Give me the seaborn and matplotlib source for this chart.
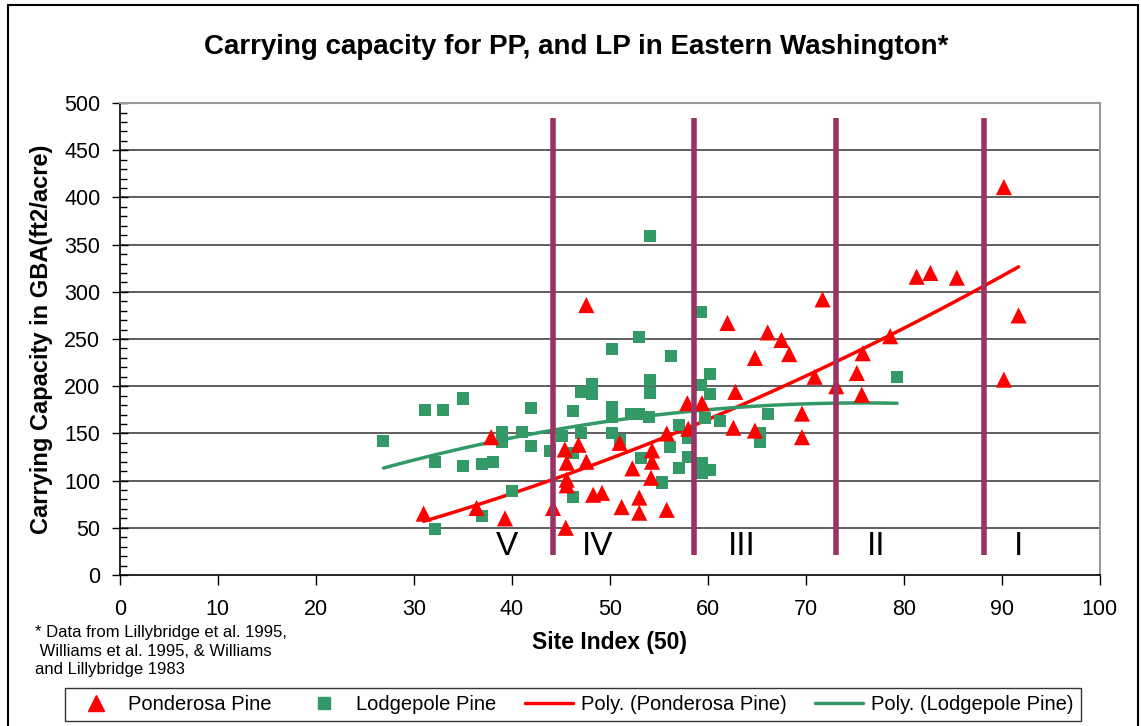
import numpy as np
import pandas as pd
import seaborn as sns
import matplotlib.pyplot as plt
from matplotlib.lines import Line2D
from matplotlib.patches import Rectangle
from matplotlib.ticker import MultipleLocator

# Ponderosa Pine (site index, carrying capacity)
pp_si = [31.0, 36.4, 37.9, 39.3, 44.2, 45.4, 45.5, 45.6, 45.6, 45.6, 46.8, 47.6, 47.6,
         48.3, 49.2, 51.0, 51.2, 52.3, 53.0, 53.0, 54.2, 54.3, 54.3, 55.8, 55.8, 57.9,
         58.0, 59.4, 62.0, 62.6, 62.8, 64.8, 64.8, 66.1, 67.5, 68.3, 69.6, 69.6, 70.9,
         71.7, 73.1, 75.2, 75.7, 75.8, 78.6, 81.3, 82.7, 85.4, 90.2, 90.2, 91.7]
pp_cc = [65, 71, 146, 60, 71, 133, 50, 119, 101, 95, 138, 120, 286,
         85, 87, 140, 72, 113, 82, 66, 103, 132, 120, 150, 69, 182,
         155, 182, 267, 156, 194, 230, 153, 257, 249, 234, 171, 146, 210,
         292, 200, 214, 191, 235, 253, 316, 320, 315, 411, 207, 275]

# Lodgepole Pine
lp_si = [26.9, 31.1, 32.2, 32.2, 33.0, 35.0, 35.0, 37.0, 37.0, 38.1, 39.0, 39.0, 40.0,
         41.0, 42.0, 42.0, 43.9, 45.1, 46.2, 46.2, 46.2, 47.1, 47.1, 48.2, 48.2, 50.2,
         50.2, 50.2, 50.2, 51.0, 52.2, 53.0, 53.0, 53.2, 54.0, 54.1, 54.1, 54.1, 55.3,
         56.1, 56.2, 57.1, 57.1, 58.0, 58.0, 59.3, 59.3, 59.4, 59.4, 59.7, 60.2, 60.2,
         60.2, 61.2, 65.3, 65.3, 66.1, 79.3]
lp_cc = [142, 175, 120, 49, 175, 187, 115, 118, 62, 120, 151, 141, 89,
         151, 177, 137, 131, 147, 174, 129, 83, 150, 194, 202, 192, 178,
         167, 150, 239, 143, 171, 171, 252, 124, 167, 359, 207, 193, 98,
         136, 232, 113, 159, 145, 125, 279, 201, 119, 108, 166, 111, 213,
         192, 163, 150, 141, 171, 210]

# site class boundaries and labels
class_bounds = [44.2, 58.6, 73.1, 88.2]
class_names = ['V', 'IV', 'III', 'II', 'I']
class_label_x = [39.5, 48.8, 63.5, 77.2, 91.7]

pp = pd.DataFrame({'si': pp_si, 'cc': pp_cc})
lp = pd.DataFrame({'si': lp_si, 'cc': lp_cc})

red = '#FF0000'
green = '#339966'
plum = '#993366'

sns.set_theme(style='white')
plt.rcParams['font.family'] = ['Liberation Sans', 'DejaVu Sans']
plt.rcParams['text.color'] = 'black'
plt.rcParams['axes.labelcolor'] = 'black'
plt.rcParams['xtick.color'] = 'black'
plt.rcParams['ytick.color'] = 'black'

fig = plt.figure(figsize=(11.41, 7.26), dpi=100)
ax = fig.add_axes([0.105, 0.208, 0.859, 0.650])

# gridlines
for yv in range(50, 501, 50):
    ax.axhline(yv, color='#333333', lw=1.1, zorder=0)

# poly trend lines (order 2)
cp = np.polyfit(pp['si'], pp['cc'], 2)
xs = np.linspace(min(pp_si), max(pp_si), 100)
ax.plot(xs, np.polyval(cp, xs), color=red, lw=2.5, zorder=3)
cl = np.polyfit(lp['si'], lp['cc'], 2)
xl = np.linspace(min(lp_si), max(lp_si), 100)
ax.plot(xl, np.polyval(cl, xl), color=green, lw=2.5, zorder=3)

sns.scatterplot(data=lp, x='si', y='cc', marker='s', color=green, s=75,
                edgecolor='none', ax=ax, zorder=4)
sns.scatterplot(data=pp, x='si', y='cc', marker='^', color=red, s=135,
                edgecolor='none', ax=ax, zorder=5)

for b in class_bounds:
    ax.plot([b, b], [21, 484], color=plum, lw=4, zorder=6, solid_capstyle='butt')
for lx, name in zip(class_label_x, class_names):
    ax.text(lx, 30, name, fontsize=24, ha='center', va='center', zorder=7)

ax.set_xlim(0, 100)
ax.set_ylim(0, 500)
ax.xaxis.set_major_locator(MultipleLocator(10))
ax.yaxis.set_major_locator(MultipleLocator(50))
ax.yaxis.set_minor_locator(MultipleLocator(10))
ax.tick_params(axis='x', direction='out', length=7, width=1, color='black',
               labelsize=15.5, pad=10, bottom=True)
ax.tick_params(axis='y', which='major', direction='inout', length=12, width=1,
               color='black', labelsize=15.5, left=True, pad=8)
ax.tick_params(axis='y', which='minor', direction='in', length=5, width=1,
               color='black', left=True)
for s in ['top', 'right']:
    ax.spines[s].set_color('#999999')
    ax.spines[s].set_linewidth(1.5)
for s in ['left', 'bottom']:
    ax.spines[s].set_color('black')
    ax.spines[s].set_linewidth(1.2)

ax.set_xlabel('Site Index (50)', fontsize=16.5, fontweight='bold', labelpad=8)
ax.set_ylabel('Carrying Capacity in GBA(ft2/acre)', fontsize=17, fontweight='bold', labelpad=8)
fig.text(0.505, 0.935, 'Carrying capacity for PP, and LP in Eastern Washington*',
         fontsize=20, fontweight='bold', ha='center', va='center')

note = '* Data from Lillybridge et al. 1995,\n Williams et al. 1995, & Williams\nand Lillybridge 1983'
fig.text(0.031, 0.139, note, fontsize=12, ha='left', va='top', linespacing=1.3)

handles = [
    Line2D([], [], marker='^', color=red, ls='none', ms=12),
    Line2D([], [], marker='s', color=green, ls='none', ms=8),
    Line2D([], [], color=red, lw=2.5),
    Line2D([], [], color=green, lw=2.5),
]
labels = ['Ponderosa Pine', 'Lodgepole Pine', 'Poly. (Ponderosa Pine)', 'Poly. (Lodgepole Pine)']
leg = fig.legend(handles, labels, loc='center', bbox_to_anchor=(0.502, 0.029), ncol=4,
                 fontsize=14.5, frameon=True, fancybox=False, edgecolor='black',
                 handlelength=2.4, handletextpad=0.4, columnspacing=1.4,
                 borderpad=0.35)
leg.get_frame().set_linewidth(1.0)

fig.patches.append(Rectangle((0.007, -0.01), 0.99, 1.003, transform=fig.transFigure,
                             fill=False, edgecolor='black', lw=1.5))

fig.savefig('out.png', dpi=100)
